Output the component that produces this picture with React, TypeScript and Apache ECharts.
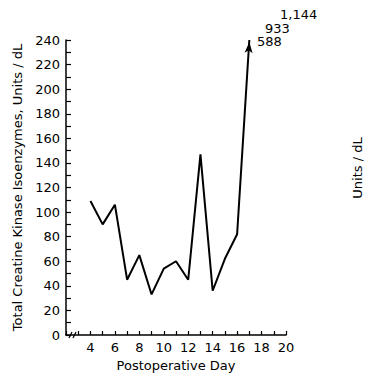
import React, { useEffect, useRef } from "react";
import * as echarts from "echarts";

const days = [4, 5, 6, 7, 8, 9, 10, 11, 12, 13, 14, 15, 16, 17];
const ckValues = [109, 90, 106, 45, 65, 33, 54, 60, 45, 147, 36, 62, 82, 588];
const offScaleLabels = ["588", "933", "1,144"];
const yMax = 240;
const xTickLabels = [4, 6, 8, 10, 12, 14, 16, 18, 20];

const FONT = "DejaVu Sans";
const INK = "#000";

export default function App() {
  const ref = useRef<HTMLDivElement>(null);
  useEffect(() => {
    if (!ref.current) return;
    const chart = echarts.init(ref.current, null, { renderer: "svg" });
    const lineData = days.map((d, i) => {
      const v = ckValues[i];
      if (v > yMax) {
        return {
          value: [d, yMax],
          symbol: "arrow",
          symbolSize: [6, 11],
          symbolRotate: -4,
          symbolOffset: [0, 2],
          itemStyle: { color: INK },
        };
      }
      return { value: [d, v], symbol: "none" };
    });
    chart.setOption({
      animation: false,
      backgroundColor: "#fff",
      grid: { left: 66, right: 83, top: 40, bottom: 46, containLabel: false },
      xAxis: {
        type: "value",
        min: 2,
        max: 20,
        interval: 1,
        name: "Postoperative Day",
        nameLocation: "middle",
        nameGap: 19,
        nameTextStyle: { fontFamily: FONT, fontSize: 13, color: INK },
        axisLine: { show: true, lineStyle: { color: INK, width: 1.5 } },
        axisTick: { show: true, inside: true, length: 4, lineStyle: { color: INK, width: 1.2 } },
        splitLine: { show: false },
        axisLabel: {
          fontFamily: FONT,
          fontSize: 13,
          color: INK,
          margin: 6,
          formatter: (v: number) => (xTickLabels.indexOf(v) >= 0 ? String(v) : ""),
        },
      },
      yAxis: {
        type: "value",
        min: 0,
        max: yMax,
        interval: 10,
        name: "Total Creatine Kinase Isoenzymes, Units / dL",
        nameLocation: "middle",
        nameGap: 32,
        nameTextStyle: { fontFamily: FONT, fontSize: 13, color: INK },
        axisLine: { show: true, lineStyle: { color: INK, width: 1.5 } },
        axisTick: { show: true, inside: true, length: 5, lineStyle: { color: INK, width: 1.2 } },
        splitLine: { show: false },
        axisLabel: {
          fontFamily: FONT,
          fontSize: 13,
          color: INK,
          margin: 6,
          formatter: (v: number) => (v % 20 === 0 ? String(v) : ""),
        },
      },
      series: [
        {
          type: "line",
          data: lineData,
          lineStyle: { color: INK, width: 2 },
          itemStyle: { color: INK },
          clip: false,
        },
      ],
      graphic: [
        { type: "line", shape: { x1: 69, y1: 338, x2: 72, y2: 332 }, style: { stroke: INK, lineWidth: 1.2 } },
        { type: "line", shape: { x1: 73, y1: 338, x2: 76, y2: 332 }, style: { stroke: INK, lineWidth: 1.2 } },
        { type: "text", left: 257, top: 35, style: { text: offScaleLabels[0], font: `13px '${FONT}'`, fill: INK } },
        { type: "text", left: 265, top: 22, style: { text: offScaleLabels[1], font: `13px '${FONT}'`, fill: INK } },
        { type: "text", left: 280, top: 8, style: { text: offScaleLabels[2], font: `13px '${FONT}'`, fill: INK } },
        {
          type: "text",
          x: 357,
          y: 168,
          rotation: Math.PI / 2,
          style: { text: "Units / dL", font: `13px '${FONT}'`, fill: INK, align: "center", verticalAlign: "middle" },
        },
      ],
    });
    return () => chart.dispose();
  }, []);
  return <div ref={ref} style={{ position: "absolute", left: 0, top: 0, width: 369, height: 381 }} />;
}
